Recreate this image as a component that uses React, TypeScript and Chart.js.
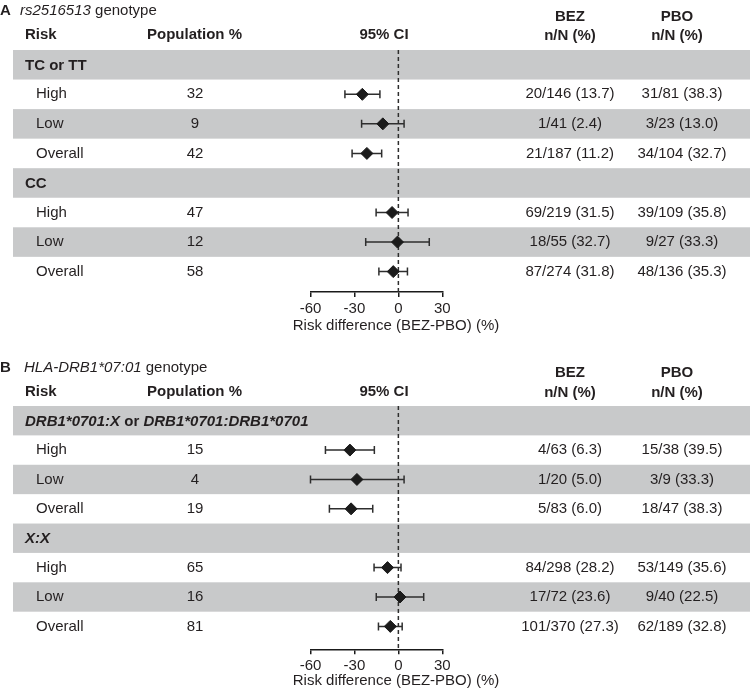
import React, { useEffect, useRef } from 'react';
import { Chart, registerables } from 'chart.js';

Chart.register(...registerables);

// ---------- data ----------
const RISK_LABELS = ['High', 'Low', 'Overall'];
const X_TICKS = [-60, -30, 0, 30];
const REF_X = 0;
const AXIS_TITLE = 'Risk difference (BEZ-PBO) (%)';
const HEAD_RISK = 'Risk';
const HEAD_POP = 'Population %';
const HEAD_CI = '95% CI';
const HEAD_BEZ = ['BEZ', 'n/N (%)'];
const HEAD_PBO = ['PBO', 'n/N (%)'];

// Panel A
const A_TITLE = ['A', 'rs2516513', ' genotype'];
const A_GROUPS = [[{ t: 'TC or TT', i: false }], [{ t: 'CC', i: false }]];
const A_POP = [32, 9, 42, 47, 12, 58];
const A_EST = [-24.6, -10.6, -21.5, -4.3, -0.6, -3.5];
const A_LO = [-36.5, -25.1, -31.6, -15.2, -22.3, -13.3];
const A_HI = [-12.6, 3.9, -11.4, 6.6, 21.1, 6.2];
const A_BEZ = ['20/146 (13.7)', '1/41 (2.4)', '21/187 (11.2)', '69/219 (31.5)', '18/55 (32.7)', '87/274 (31.8)'];
const A_PBO = ['31/81 (38.3)', '3/23 (13.0)', '34/104 (32.7)', '39/109 (35.8)', '9/27 (33.3)', '48/136 (35.3)'];

// Panel B
const B_TITLE = ['B', 'HLA-DRB1*07:01', ' genotype'];
const B_GROUPS = [
  [{ t: 'DRB1*0701:X', i: true }, { t: ' or ', i: false }, { t: 'DRB1*0701:DRB1*0701', i: true }],
  [{ t: 'X:X', i: true }],
];
const B_POP = [15, 4, 19, 65, 16, 81];
const B_EST = [-33.1, -28.3, -32.3, -7.4, 1.1, -5.5];
const B_LO = [-49.8, -60, -47.1, -16.6, -15.1, -13.6];
const B_HI = [-16.4, 3.9, -17.5, 1.8, 17.3, 2.6];
const B_BEZ = ['4/63 (6.3)', '1/20 (5.0)', '5/83 (6.0)', '84/298 (28.2)', '17/72 (23.6)', '101/370 (27.3)'];
const B_PBO = ['15/38 (39.5)', '3/9 (33.3)', '18/47 (38.3)', '53/149 (35.6)', '9/40 (22.5)', '62/189 (32.8)'];

// ---------- style ----------
const FONT = '"Liberation Sans", Arial, Helvetica, sans-serif';
const TEXT = '#231f20';
const BAND = '#c8c9ca';
const MARK = '#1b1b1b';
const LINE = '#2e2e2e';

type Seg = { t: string; i: boolean };
type PanelDef = {
  title: string[];
  groups: Seg[][];
  pop: number[];
  est: number[];
  lo: number[];
  hi: number[];
  bez: string[];
  pbo: string[];
  canvasH: number;
  axisH: number;
  yMax: number;
  axisTitleY: number;
  titleBase: number;
  geneX: number;
  headBase: number;
  bezBase: number;
  top: number;
};

const PANELS: PanelDef[] = [
  {
    title: A_TITLE, groups: A_GROUPS, pop: A_POP, est: A_EST, lo: A_LO, hi: A_HI, bez: A_BEZ, pbo: A_PBO,
    canvasH: 356, axisH: 64, yMax: 7.69, axisTitleY: 326, titleBase: 15, geneX: 20, headBase: 38.8, bezBase: 21, top: 0,
  },
  {
    title: B_TITLE, groups: B_GROUPS, pop: B_POP, est: B_EST, lo: B_LO, hi: B_HI, bez: B_BEZ, pbo: B_PBO,
    canvasH: 338, axisH: 44.7, yMax: 7.78, axisTitleY: 325, titleBase: 16, geneX: 24, headBase: 40, bezBase: 21.3, top: 356,
  },
];

// row index layout: group header at 0 and 4, data rows 1-3, 5-7
const DATA_ROWS = [1, 2, 3, 5, 6, 7];
const GROUP_ROWS = [0, 4];
const BAND_ROWS = [0, 2, 4, 6];

function Panel({ p }: { p: PanelDef }) {
  const ref = useRef<HTMLCanvasElement>(null);
  useEffect(() => {
    const canvas = ref.current!;
    const bandsPlugin = {
      id: 'bands',
      beforeDatasetsDraw(chart: any) {
        const { ctx, scales } = chart;
        const y = scales.y;
        ctx.save();
        ctx.fillStyle = BAND;
        BAND_ROWS.forEach((r) => {
          const t = y.getPixelForValue(r - 0.5);
          const b = y.getPixelForValue(r + 0.5);
          ctx.fillRect(13, t, 750 - 13, b - t);
        });
        ctx.restore();
      },
    };
    const errPlugin = {
      id: 'errbars',
      afterDatasetDraw(chart: any, args: any) {
        if (args.index !== 1) return;
        const { ctx, scales } = chart;
        ctx.save();
        ctx.strokeStyle = LINE;
        ctx.lineWidth = 1.5;
        DATA_ROWS.forEach((r, k) => {
          const py = scales.y.getPixelForValue(r);
          const x1 = scales.x.getPixelForValue(p.lo[k]);
          const x2 = scales.x.getPixelForValue(p.hi[k]);
          ctx.beginPath();
          ctx.moveTo(x1, py);
          ctx.lineTo(x2, py);
          ctx.moveTo(x1, py - 4);
          ctx.lineTo(x1, py + 4);
          ctx.moveTo(x2, py - 4);
          ctx.lineTo(x2, py + 4);
          ctx.stroke();
        });
        ctx.restore();
      },
    };
    const textPlugin = {
      id: 'texts',
      afterDraw(chart: any) {
        const { ctx, scales } = chart;
        const y = scales.y;
        ctx.save();
        ctx.fillStyle = TEXT;
        // title
        ctx.textBaseline = 'alphabetic';
        ctx.textAlign = 'left';
        ctx.font = `bold 15px ${FONT}`;
        ctx.fillText(p.title[0], 0, p.titleBase);
        ctx.font = `italic 15px ${FONT}`;
        ctx.fillText(p.title[1], p.geneX, p.titleBase);
        const gw = ctx.measureText(p.title[1]).width;
        ctx.font = `15px ${FONT}`;
        ctx.fillText(p.title[2], p.geneX + gw, p.titleBase);
        // headers
        ctx.font = `bold 15px ${FONT}`;
        ctx.fillText(HEAD_RISK, 25, p.headBase);
        ctx.fillText(HEAD_POP, 147, p.headBase);
        ctx.textAlign = 'center';
        ctx.fillText(HEAD_CI, 384, p.headBase);
        ctx.fillText(HEAD_BEZ[0], 570, p.bezBase);
        ctx.fillText(HEAD_BEZ[1], 570, p.headBase + 1);
        ctx.fillText(HEAD_PBO[0], 677, p.bezBase);
        ctx.fillText(HEAD_PBO[1], 677, p.headBase + 1);
        // group labels
        ctx.textBaseline = 'middle';
        ctx.textAlign = 'left';
        GROUP_ROWS.forEach((r, gi) => {
          const py = y.getPixelForValue(r) + 1;
          let x = 25;
          p.groups[gi].forEach((s) => {
            ctx.font = `${s.i ? 'italic ' : ''}bold 15px ${FONT}`;
            ctx.fillText(s.t, x, py);
            x += ctx.measureText(s.t).width;
          });
        });
        // data rows
        ctx.font = `15px ${FONT}`;
        DATA_ROWS.forEach((r, k) => {
          const py = y.getPixelForValue(r);
          ctx.textAlign = 'left';
          ctx.fillText(RISK_LABELS[k % 3], 36, py);
          ctx.textAlign = 'center';
          ctx.fillText(String(p.pop[k]), 195, py);
          ctx.fillText(p.bez[k], 570, py);
          ctx.fillText(p.pbo[k], 682, py);
        });
        // axis title
        ctx.textAlign = 'center';
        ctx.fillText(AXIS_TITLE, 396, p.axisTitleY);
        ctx.restore();
      },
    };

    const chart = new Chart(canvas, {
      type: 'scatter',
      data: {
        datasets: [
          {
            type: 'scatter',
            data: DATA_ROWS.map((r, k) => ({ x: p.est[k], y: r })),
            pointStyle: 'rectRot',
            pointRadius: 6,
            backgroundColor: MARK,
            borderColor: MARK,
            borderWidth: 1,
            order: 0,
          },
          {
            type: 'line',
            data: [
              { x: REF_X, y: -0.5 },
              { x: REF_X, y: p.yMax },
            ],
            borderColor: LINE,
            borderWidth: 1.5,
            borderDash: [4, 3],
            pointRadius: 0,
            fill: false,
            order: 1,
          } as any,
        ],
      },
      options: {
        animation: false,
        responsive: false,
        events: [],
        layout: { padding: { left: 310.5, right: 307.7, top: 50, bottom: 0 } },
        plugins: { legend: { display: false }, tooltip: { enabled: false } },
        scales: {
          x: {
            type: 'linear',
            min: -60,
            max: 30,
            afterBuildTicks: (s: any) => {
              s.ticks = X_TICKS.map((v) => ({ value: v }));
            },
            ticks: { font: { family: FONT, size: 15 }, color: TEXT, padding: 3, maxRotation: 0 },
            grid: { drawOnChartArea: false, drawTicks: true, tickLength: 5, color: '#1a1a1a', lineWidth: 1.5 },
            border: { display: true, color: '#1a1a1a', width: 1.5 },
            title: { display: false },
            afterFit: (s: any) => {
              s.height = p.axisH;
            },
          },
          y: { type: 'linear', display: false, min: -0.5, max: p.yMax, reverse: true },
        },
      } as any,
      plugins: [bandsPlugin, errPlugin, textPlugin],
    });
    return () => chart.destroy();
  }, []);
  return (
    <div style={{ position: 'absolute', left: 0, top: p.top, width: 750, height: p.canvasH }}>
      <canvas ref={ref} width={750} height={p.canvasH} style={{ display: 'block' }} />
    </div>
  );
}

export default function App() {
  return (
    <div style={{ position: 'absolute', left: 0, top: 0, width: 750, height: 694, background: '#fff' }}>
      {PANELS.map((p, i) => (
        <Panel key={i} p={p} />
      ))}
    </div>
  );
}
